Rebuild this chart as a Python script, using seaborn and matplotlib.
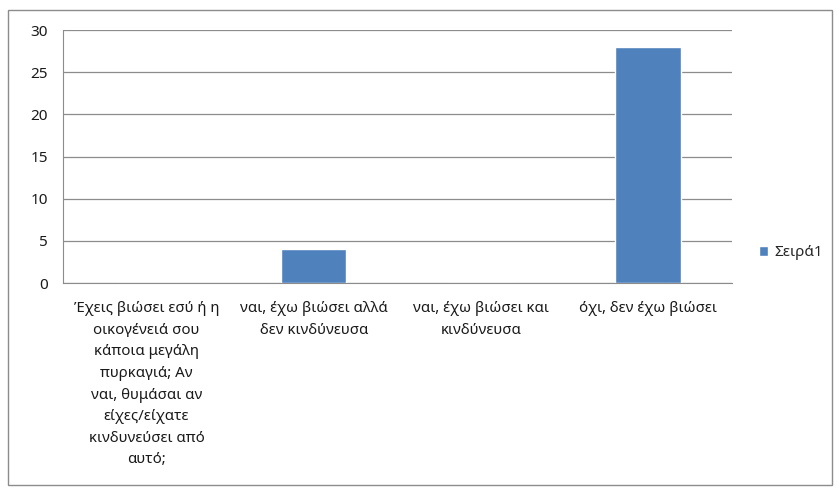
import matplotlib.pyplot as plt
import seaborn as sns
import pandas as pd
from matplotlib.patches import Rectangle

categories = [
    "Έχεις βιώσει εσύ ή η\nοικογένειά σου\nκάποια μεγάλη\nπυρκαγιά; Αν\nναι, θυμάσαι αν\nείχες/είχατε\nκινδυνεύσει από\nαυτό;",
    "ναι, έχω βιώσει αλλά\nδεν κινδύνευσα",
    "ναι, έχω βιώσει και\nκινδύνευσα",
    "όχι, δεν έχω βιώσει",
]
values = [0, 4, 0, 28]
series_name = "Σειρά1"
y_ticks = [0, 5, 10, 15, 20, 25, 30]

df = pd.DataFrame({"cat": categories, "val": values})

sns.set_style("white")
plt.rcParams['font.family'] = ['Noto Sans', 'DejaVu Sans']

fig = plt.figure(figsize=(8.4, 4.94), dpi=100)
ax = fig.add_axes([0.075, 0.427, 0.796, 0.512])

sns.barplot(data=df, x="cat", y="val", color="#4F81BD", width=0.39,
            saturation=1, ax=ax, label=series_name)

ax.set_ylim(0, 30)
ax.set_xlim(-0.5, len(categories) - 0.5)
ax.set_yticks(y_ticks)
ax.yaxis.grid(True, color="#8c8c8c", linewidth=0.9)
ax.set_axisbelow(True)
for s in ["top", "right"]:
    ax.spines[s].set_visible(False)
for s in ["left", "bottom"]:
    ax.spines[s].set_color("#8c8c8c")
ax.tick_params(axis="y", length=5, color="#8c8c8c", labelsize=11,
               labelcolor="#1a1a1a", pad=6)
ax.tick_params(axis="x", length=0, labelsize=10.8, labelcolor="#1a1a1a",
               pad=13)
ax.set_xlabel("")
ax.set_ylabel("")
for lbl in ax.get_xticklabels():
    lbl.set_verticalalignment("top")
    lbl.set_multialignment("center")
    lbl.set_linespacing(1.6)

leg = ax.legend(loc="center left", bbox_to_anchor=(1.02, 0.12), frameon=False,
                fontsize=11, handlelength=0.6, handleheight=0.6,
                handletextpad=0.4)

# outer chart border
fig.patches.append(Rectangle((0.009, 0.018), 0.982, 0.962,
                             transform=fig.transFigure, fill=False,
                             edgecolor="#8c8c8c", linewidth=1))

fig.savefig("out.png", dpi=100)
